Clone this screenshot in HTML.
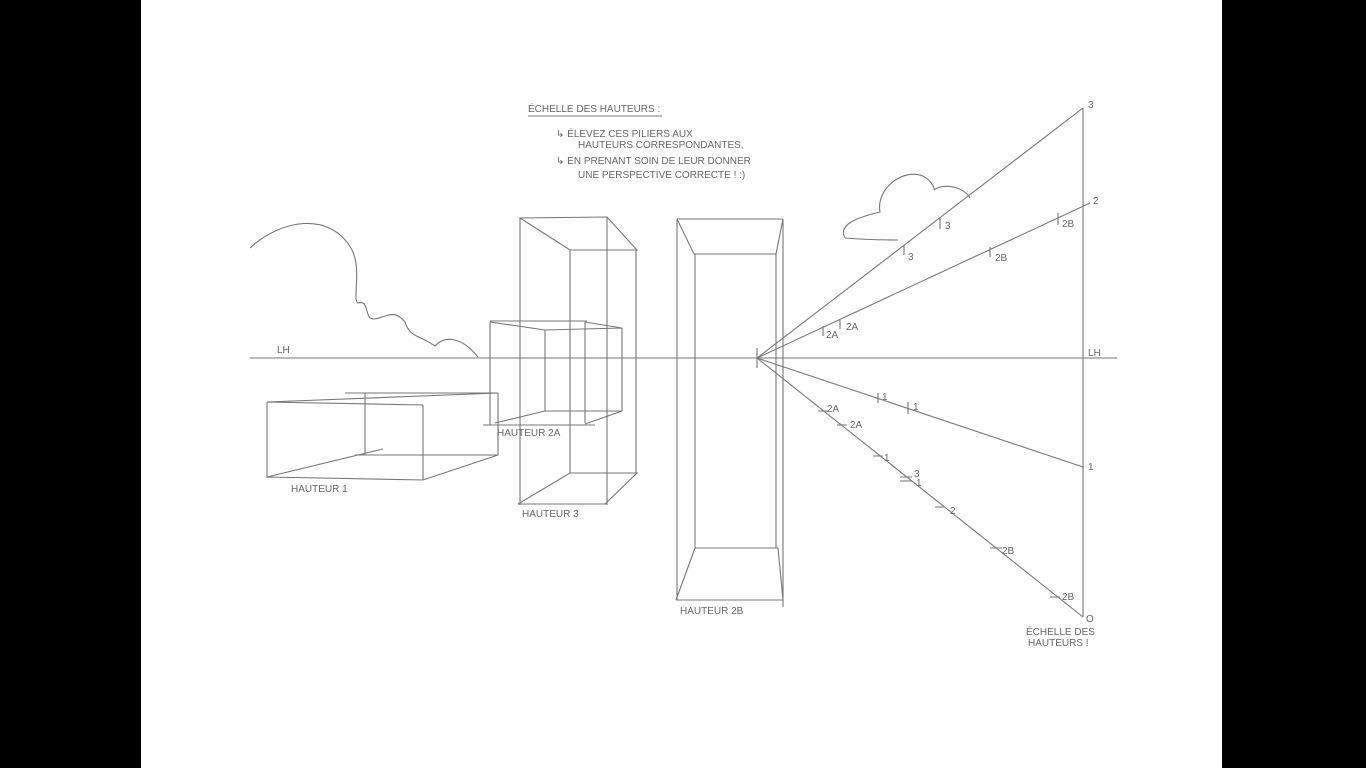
<!DOCTYPE html>
<html><head><meta charset="utf-8"><style>
html,body{margin:0;padding:0;background:#000;width:1366px;height:768px;overflow:hidden}
svg{position:absolute;left:0;top:0}
text{font-family:"Liberation Sans",sans-serif;fill:#666;font-size:10px}
</style></head><body>
<svg width="1366" height="768" viewBox="0 0 1366 768">
<rect x="141" y="0" width="1081" height="768" fill="#fff"/>
<g stroke="#777" stroke-width="1.1" fill="none">
<!-- horizon -->
<line x1="250" y1="358" x2="1117" y2="358"/>
<!-- scale vertical -->
<line x1="1083" y1="108" x2="1083" y2="617"/>
<line x1="757" y1="358" x2="1083" y2="108"/>
<line x1="757" y1="358" x2="1090" y2="203"/>
<line x1="757" y1="358" x2="1083" y2="467"/>
<line x1="757" y1="358" x2="1083" y2="617"/>
<line x1="757" y1="348" x2="757" y2="368"/>
<!-- ticks -->
<path d="M904 245v10M940 217v12M990 247v10M1058 213v12M823 326v10M840 319v10M818 411h10M837 425h10M873 456h10M900 477h12M900 481h12M935 507h10M990 548h12M1050 597h10M878 393v10M908 402v12"/>
<!-- box hauteur 1 -->
<path d="M267 402L498 393M345 393H498M267 402L423 405M267 402V478M423 405V480M365 393V455M498 393V455M267 477L423 480L498 455M267 477L383 449M355 455H498"/>
<!-- box 2A -->
<path d="M490 322L545 330L622 328L585 322M490 321H587M490 322V425M545 330V411M585 322V423M622 328V411M483 425H595M495 423L545 411H622L585 424"/>
<!-- box hauteur 3 -->
<path d="M520 218L570 250H637L607 217Z M520 218V505M570 250V473M607 217V505M636 250V473M518 504H607M518 504L570 473H637L605 504"/>
<!-- box 2B -->
<path d="M677 219H783M677 219V600M783 219V607M694 254H776M695 254V548M776 254V548M695 548H778M676 600H783M677 219L694 254M783 219L776 254M676 600L695 548M783 600L778 548"/>
<!-- left cloud -->
<path d="M250 248C280 220 330 210 352 250C362 270 352 300 358 303C368 300 365 312 370 318C380 323 392 305 405 322C410 338 420 335 435 346C445 335 462 337 478 357"/>
<!-- right cloud -->
<path d="M845 238C838 225 855 218 880 212C876 190 900 170 920 175C930 178 935 188 934 190C945 182 965 188 970 198M845 238C870 240 890 240 898 240"/>
</g>
<g>
<text x="277" y="353" font-size="8">LH</text>
<text x="1088" y="356" font-size="7">LH</text>
<text x="1088" y="108" font-size="14">3</text>
<text x="1093" y="204" font-size="13">2</text>
<text x="1088" y="470" font-size="16">1</text>
<text x="1086" y="622" font-size="13">O</text>
<text x="945" y="229" font-size="11">3</text>
<text x="908" y="260" font-size="11">3</text>
<text x="995" y="261" font-size="10">2B</text>
<text x="1062" y="227" font-size="10">2B</text>
<text x="826" y="338" font-size="10">2A</text>
<text x="846" y="330" font-size="10">2A</text>
<text x="827" y="412" font-size="9">2A</text>
<text x="850" y="428" font-size="9">2A</text>
<text x="882" y="400" font-size="8">1</text>
<text x="913" y="410" font-size="8">1</text>
<text x="884" y="461" font-size="8">1</text>
<text x="914" y="477" font-size="8">3</text>
<text x="916" y="486" font-size="8">1</text>
<text x="950" y="514" font-size="8">2</text>
<text x="1002" y="554" font-size="9">2B</text>
<text x="1062" y="600" font-size="9">2B</text>
<text x="291" y="492" font-size="8">HAUTEUR 1</text>
<text x="497" y="436" font-size="8">HAUTEUR 2A</text>
<text x="522" y="517" font-size="8">HAUTEUR 3</text>
<text x="680" y="614" font-size="9">HAUTEUR 2B</text>
<text x="1026" y="635" font-size="8">ÉCHELLE DES</text>
<text x="1028" y="646" font-size="8">HAUTEURS !</text>
<text x="528" y="112" font-size="11">ÉCHELLE DES HAUTEURS :</text>
<line x1="528" y1="116" x2="662" y2="116" stroke="#777"/>
<text x="556" y="137" font-size="10">↳ ÉLEVEZ CES PILIERS AUX</text>
<text x="578" y="148" font-size="10">HAUTEURS CORRESPONDANTES,</text>
<text x="556" y="164" font-size="10">↳ EN PRENANT SOIN DE LEUR DONNER</text>
<text x="578" y="178" font-size="10">UNE PERSPECTIVE CORRECTE ! :)</text>
</g>
</svg>
</body></html>
